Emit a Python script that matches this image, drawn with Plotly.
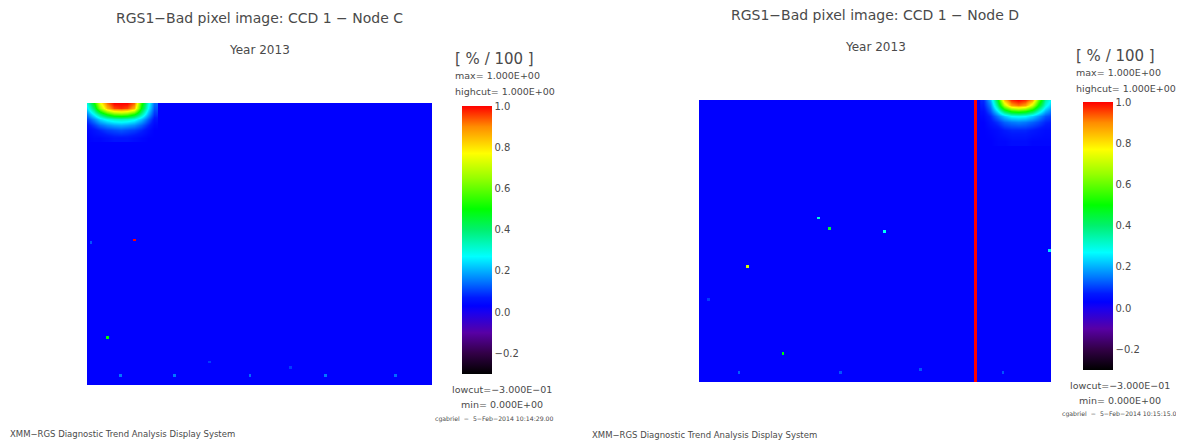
import numpy as np
import plotly.graph_objects as go

W, H = 1184, 443
PAGE_MARGIN = 8  # default body margin of the html page
FIG_W, FIG_H = W - PAGE_MARGIN, H - PAGE_MARGIN

# ---------------- data ----------------
GRID_COLS = 128
GRID_ROWS = 104
BACKGROUND = 0.03

# isolated bad pixels (col, row counted from bottom, value)
left_hot_cols = [17, 7, 12, 32, 60, 88, 114, 1, 45, 75]
left_hot_rows = [53, 17, 3, 3, 3, 3, 3, 52, 8, 6]
left_hot_vals = [1.0, 0.5, 0.15, 0.15, 0.14, 0.15, 0.14, 0.12, 0.1, 0.1]

right_hot_cols = [43, 47, 67, 17, 30, 127, 14, 51, 80, 110, 3]
right_hot_rows = [60, 56, 55, 42, 10, 48, 3, 3, 4, 3, 30]
right_hot_vals = [0.3, 0.45, 0.28, 0.72, 0.5, 0.25, 0.13, 0.12, 0.12, 0.12, 0.1]

# bad column (red vertical line) in node D
right_bad_col = 100
right_bad_col_val = 1.0

# smooth hot corner regions (cols in grid units, rows counted from top)
left_blob_cols = [0, 2.5, 5, 7.5, 10, 12.5, 15, 17.5, 20, 22.5, 25]
left_blob_rows = [0, 2, 4, 6, 8, 10, 13]
left_blob_vals = [
    [0.30, 0.50, 0.75, 0.92, 1.00, 1.00, 1.00, 0.93, 0.55, 0.30, 0.14],
    [0.25, 0.42, 0.66, 0.85, 0.95, 0.97, 0.95, 0.86, 0.50, 0.27, 0.12],
    [0.16, 0.28, 0.40, 0.52, 0.60, 0.62, 0.60, 0.52, 0.36, 0.20, 0.09],
    [0.10, 0.17, 0.24, 0.29, 0.32, 0.33, 0.32, 0.29, 0.22, 0.13, 0.06],
    [0.06, 0.10, 0.14, 0.17, 0.19, 0.20, 0.19, 0.17, 0.13, 0.08, 0.04],
    [0.04, 0.06, 0.08, 0.10, 0.11, 0.12, 0.11, 0.10, 0.08, 0.05, 0.03],
    [0.03, 0.04, 0.04, 0.05, 0.06, 0.06, 0.06, 0.05, 0.04, 0.03, 0.03],
]

right_blob_cols = [103.5, 106, 108.5, 111, 113.5, 116, 118.5, 121, 123.5, 126, 128.5]
right_blob_rows = [0, 2, 4, 6, 8, 11, 15]
right_blob_vals = [
    [0.08, 0.20, 0.45, 0.85, 0.97, 1.00, 0.97, 0.88, 0.60, 0.35, 0.25],
    [0.07, 0.16, 0.38, 0.70, 0.88, 0.92, 0.88, 0.72, 0.50, 0.30, 0.20],
    [0.05, 0.12, 0.25, 0.42, 0.52, 0.55, 0.52, 0.44, 0.32, 0.20, 0.14],
    [0.04, 0.08, 0.15, 0.22, 0.27, 0.28, 0.27, 0.23, 0.18, 0.12, 0.10],
    [0.03, 0.06, 0.09, 0.13, 0.15, 0.16, 0.15, 0.13, 0.11, 0.08, 0.07],
    [0.03, 0.04, 0.05, 0.07, 0.08, 0.08, 0.08, 0.07, 0.06, 0.05, 0.05],
    [0.03, 0.03, 0.04, 0.04, 0.05, 0.05, 0.05, 0.04, 0.04, 0.04, 0.04],
]

ZMIN, ZMAX = -0.3, 1.0
cbar_tickvals = [-0.2, 0.0, 0.2, 0.4, 0.6, 0.8, 1.0]
cbar_ticktext = ["\u22120.2", "0.0", "0.2", "0.4", "0.6", "0.8", "1.0"]

# colour table stops (value, colour)
ct_vals = [-0.3, -0.2, -0.1, 0.0, 0.03, 0.07, 0.15, 0.27, 0.4, 0.5, 0.65, 0.77, 0.9, 1.0]
ct_cols = ["rgb(0,0,0)", "rgb(50,0,70)", "rgb(88,0,165)", "rgb(25,0,240)", "rgb(0,0,255)",
           "rgb(0,25,255)", "rgb(0,120,255)", "rgb(0,255,255)", "rgb(0,240,110)",
           "rgb(0,255,0)", "rgb(150,255,0)", "rgb(255,255,0)", "rgb(255,140,0)", "rgb(255,0,0)"]
colorscale = [[(v - ZMIN) / (ZMAX - ZMIN), c] for v, c in zip(ct_vals, ct_cols)]

# ---------------- build images ----------------
zl = np.full((GRID_ROWS, GRID_COLS), BACKGROUND)
for c, r, v in zip(left_hot_cols, left_hot_rows, left_hot_vals):
    zl[r, c] = v
zr = np.full((GRID_ROWS, GRID_COLS), BACKGROUND)
for c, r, v in zip(right_hot_cols, right_hot_rows, right_hot_vals):
    zr[r, c] = v
zr[:, right_bad_col] = right_bad_col_val


def px_x(x):
    return (x - PAGE_MARGIN) / FIG_W


def px_y(y):
    return (FIG_H - (y - PAGE_MARGIN)) / FIG_H


FONT = "DejaVu Sans"
TXT = "#4a4a4a"

fig = go.Figure()

fig.add_trace(go.Heatmap(z=zl, x0=0.5, dx=1, y0=0.5, dy=1, coloraxis="coloraxis",
                         xaxis="x", yaxis="y", hoverinfo="skip"))
fig.add_trace(go.Heatmap(z=np.array(left_blob_vals)[::-1], x=left_blob_cols,
                         y=[GRID_ROWS - r for r in left_blob_rows[::-1]],
                         zsmooth="best", coloraxis="coloraxis",
                         xaxis="x", yaxis="y", hoverinfo="skip"))
fig.add_trace(go.Heatmap(z=zr, x0=0.5, dx=1, y0=0.5, dy=1, coloraxis="coloraxis2",
                         xaxis="x2", yaxis="y2", hoverinfo="skip"))
fig.add_trace(go.Heatmap(z=np.array(right_blob_vals)[::-1], x=right_blob_cols,
                         y=[GRID_ROWS - r for r in right_blob_rows[::-1]],
                         zsmooth="best", coloraxis="coloraxis2",
                         xaxis="x2", yaxis="y2", hoverinfo="skip"))

axis_common = dict(showticklabels=False, showgrid=False, zeroline=False,
                   showline=False, ticks="", fixedrange=True)

panels = [
    dict(x0=87, x1=432, y0=103, y1=385, cb_x=462, cb_top=106, cb_bot=374,
         node="C", title_y=18, year_y=50, unit_y=59, max_y=75, hi_y=91,
         low_cx=502, low_y=389, min_y=404, stamp_y=419, stamp_x=556, stamp="10:14:29.00",
         foot_x=8, foot_y=434),
    dict(x0=699, x1=1051, y0=100, y1=382, cb_x=1083, cb_top=102, cb_bot=370,
         node="D", title_y=15, year_y=47, unit_y=56, max_y=72, hi_y=88,
         low_cx=1120, low_y=385, min_y=400, stamp_y=414, stamp_x=1183, stamp="10:15:15.00",
         foot_x=590, foot_y=435),
]

layout = dict(width=FIG_W, height=FIG_H, margin=dict(l=0, r=0, t=0, b=0),
              paper_bgcolor="white", plot_bgcolor="white", showlegend=False)
annotations = []
for i, p in enumerate(panels):
    sfx = "" if i == 0 else "2"
    layout["xaxis" + sfx] = dict(domain=[px_x(p["x0"]), px_x(p["x1"])], range=[0, GRID_COLS],
                                 anchor="y" + sfx, **axis_common)
    layout["yaxis" + sfx] = dict(domain=[px_y(p["y1"]), px_y(p["y0"])], range=[0, GRID_ROWS],
                                 anchor="x" + sfx, **axis_common)
    layout["coloraxis" + sfx] = dict(
        cmin=ZMIN, cmax=ZMAX, colorscale=colorscale,
        colorbar=dict(x=px_x(p["cb_x"]), xanchor="left", y=px_y(p["cb_top"]), yanchor="top",
                      len=p["cb_bot"] - p["cb_top"], lenmode="pixels", thickness=30,
                      thicknessmode="pixels", xpad=0, ypad=0, outlinewidth=0, ticks="",
                      tickvals=cbar_tickvals, ticktext=cbar_ticktext,
                      tickfont=dict(family=FONT, size=10, color=TXT)))
    xc = (p["x0"] + p["x1"]) / 2

    def ann(text, x, y, size, xanchor="center"):
        annotations.append(dict(text=text, x=px_x(x), y=px_y(y), xref="paper", yref="paper",
                                xanchor=xanchor, yanchor="middle", showarrow=False,
                                font=dict(family=FONT, size=size, color=TXT)))

    ann("RGS1\u2212Bad pixel image: CCD 1 \u2212 Node " + p["node"], xc, p["title_y"], 14)
    ann("Year 2013", xc, p["year_y"], 12)
    ann("[ % / 100 ]", p["cb_x"] - 9, p["unit_y"], 15, "left")
    ann("max= 1.000E+00", p["cb_x"] - 9, p["max_y"], 9.5, "left")
    ann("highcut= 1.000E+00", p["cb_x"] - 9, p["hi_y"], 9.5, "left")
    ann("lowcut=\u22123.000E\u221201", p["low_cx"], p["low_y"], 9.5)
    ann("min= 0.000E+00", p["low_cx"], p["min_y"], 9.5)
    ann("cgabriel  \u2212  5\u2212Feb\u22122014 " + p["stamp"], p["stamp_x"], p["stamp_y"], 6.2, "right")
    ann("XMM\u2212RGS Diagnostic Trend Analysis Display System", p["foot_x"], p["foot_y"], 8.5, "left")

layout["annotations"] = annotations
fig.update_layout(**layout)
fig.write_html("out.html")
